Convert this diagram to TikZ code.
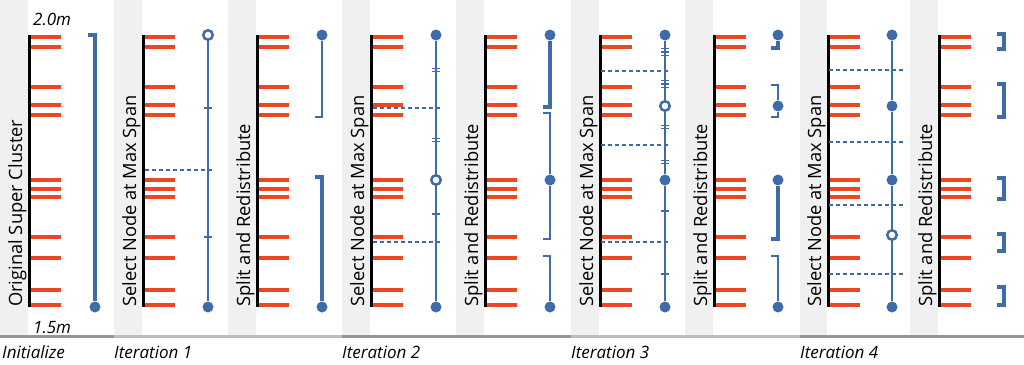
\documentclass[tikz,border=0pt]{standalone}
\usepackage{fontspec}
\setmainfont{Open Sans}
\definecolor{barred}{RGB}{236,70,35}
\definecolor{spanblue}{RGB}{62,108,170}
\definecolor{stripegray}{RGB}{240,240,240}
\definecolor{ruledark}{RGB}{150,150,150}
\definecolor{rulelight}{RGB}{190,190,190}
\tikzset{
  bar/.style={barred, line width=4pt},
  axis/.style={black, line width=3pt},
  thinspan/.style={spanblue, line width=2pt},
  thickspan/.style={spanblue, line width=3.5pt},
  cut/.style={spanblue, line width=1.5pt, dash pattern=on 4pt off 3pt},
  spantick/.style={spanblue, line width=1.3pt},
  dot/.style={circle, fill=spanblue, inner sep=0pt, minimum size=11pt},
  opendot/.style={circle, draw=spanblue, fill=white, line width=2.5pt, inner sep=0pt, minimum size=9.5pt},
  steplabel/.style={rotate=90, anchor=base west, inner sep=0pt, font=\fontsize{18.3}{18.3}\selectfont},
  itlabel/.style={anchor=base west, inner sep=0pt, font=\itshape\fontsize{17}{17}\selectfont},
}
\begin{document}
\begin{tikzpicture}[x=1pt, y=-1pt]
	\useasboundingbox (0,0) rectangle (1024,364);
	\fill[white] (0,0) rectangle (1024,364);

	% panels: stripe, axis and the red members
	\foreach \b/\s in {29/0, 143/114, 257/228, 371/342, 485/456, 600/571, 714/685, 828/800, 939/910}{
		\fill[stripegray] (\s,0) rectangle (\b-1.5,335);
		\foreach \y in {37.3,46.7,86.7,105.3,115,180.3,189,196.7,236.7,258,290,305.3}
			\draw[bar] (\b+1,\y) -- (\b+32,\y);
		\draw[axis] (\b,35) -- (\b,307);
	}

	% bottom rule
	\draw[ruledark, line width=3pt] (0,336) -- (114,336);
	\draw[rulelight, line width=3pt] (114,336) -- (342,336);
	\draw[ruledark, line width=3pt] (342,336) -- (571,336);
	\draw[rulelight, line width=3pt] (571,336) -- (800,336);
	\draw[ruledark, line width=3pt] (800,336) -- (1024,336);

	% labels
	\node[itlabel] (top) at (33,25) {2.0m};
	\node[itlabel] (low) at (33,333) {1.5m};
	\node[steplabel] (t0) at (22,307) {Original Super Cluster};
	\node[steplabel] (t1) at (136,307) {Select Node at Max Span};
	\node[steplabel] (t2) at (250,307) {Split and Redistribute};
	\node[steplabel] (t3) at (364,307) {Select Node at Max Span};
	\node[steplabel] (t4) at (478,307) {Split and Redistribute};
	\node[steplabel] (t5) at (593,307) {Select Node at Max Span};
	\node[steplabel] (t6) at (707,307) {Split and Redistribute};
	\node[steplabel] (t7) at (821,307) {Select Node at Max Span};
	\node[steplabel] (t8) at (932,307) {Split and Redistribute};
	\node[itlabel] (i0) at (2,358) {Initialize};
	\node[itlabel] (i1) at (114,358) {Iteration 1};
	\node[itlabel] (i2) at (342,358) {Iteration 2};
	\node[itlabel] (i3) at (571,358) {Iteration 3};
	\node[itlabel] (i4) at (800,358) {Iteration 4};

	% initialize
	\coordinate (a0) at (95,35);
	\node[dot] (a1) at (95,307) {};
	\draw[thickspan] ([xshift=-7pt]a0) -- (a0) -- (a1);

	% iteration 1: select
	\draw[cut] (145,170) -- (213,170);
	\node[opendot] (b0) at (208,35) {};
	\node[dot] (b1) at (208,307) {};
	\draw[thinspan] (b0) -- (b1);
	\draw[spantick] (204,108) -- (212,108);
	\draw[spantick] (204,237) -- (212,237);

	% iteration 1: split
	\node[dot] (c0) at (322,35) {};
	\coordinate (c1) at (322,117);
	\coordinate (c2) at (322,177);
	\node[dot] (c3) at (322,307) {};
	\draw[thinspan] (c0) -- (c1) -- ([xshift=-7pt]c1);
	\draw[thickspan] ([xshift=-7pt]c2) -- (c2) -- (c3);

	% iteration 2: select
	\draw[cut] (373,108) -- (440,108);
	\draw[cut] (373,242) -- (440,242);
	\node[dot] (d0) at (436,35) {};
	\node[opendot] (d1) at (436,180) {};
	\node[dot] (d2) at (436,307) {};
	\draw[thinspan] (d0) -- (d1) -- (d2);
	\foreach \y in {68.2,71.8,138.2,141.8,214}
		\draw[spantick] (432,\y) -- (440,\y);

	% iteration 2: split
	\node[dot] (e0) at (550,35) {};
	\coordinate (e1) at (550,107);
	\coordinate (e2) at (550,113);
	\node[dot] (e3) at (550,180) {};
	\coordinate (e4) at (550,239);
	\coordinate (e5) at (550,256);
	\node[dot] (e6) at (550,307) {};
	\draw[thickspan] (e0) -- (e1) -- ([xshift=-7pt]e1);
	\draw[thinspan] ([xshift=-7pt]e2) -- (e2) -- (e3) -- (e4) -- ([xshift=-7pt]e4);
	\draw[thinspan] ([xshift=-7pt]e5) -- (e5) -- (e6);

	% iteration 3: select
	\draw[cut] (601,71) -- (670,71);
	\draw[cut] (601,145) -- (670,145);
	\draw[cut] (601,242) -- (670,242);
	\node[dot] (f0) at (665,35) {};
	\node[opendot] (f1) at (665,106) {};
	\node[dot] (f2) at (665,180) {};
	\node[dot] (f3) at (665,307) {};
	\draw[thinspan] (f0) -- (f1) -- (f2) -- (f3);
	\foreach \y in {48.7,52,55.3,80.7,84,87.3,125.2,128.8,160.2,163.8,211,274}
		\draw[spantick] (661,\y) -- (669,\y);

	% iteration 3: split
	\node[dot] (g0) at (778,35) {};
	\coordinate (g1) at (778,48);
	\coordinate (g2) at (778,85);
	\node[dot] (g3) at (778,106) {};
	\coordinate (g4) at (778,117);
	\node[dot] (g5) at (778,180) {};
	\coordinate (g6) at (778,239);
	\coordinate (g7) at (778,256);
	\node[dot] (g8) at (778,307) {};
	\draw[thickspan] (g0) -- (g1) -- ([xshift=-7pt]g1);
	\draw[thinspan] ([xshift=-7pt]g2) -- (g2) -- (g3) -- (g4) -- ([xshift=-7pt]g4);
	\draw[thickspan] (g5) -- (g6) -- ([xshift=-7pt]g6);
	\draw[thinspan] ([xshift=-7pt]g7) -- (g7) -- (g8);

	% iteration 4: select
	\draw[cut] (829,70) -- (906,70);
	\draw[cut] (829,142) -- (906,142);
	\draw[cut] (829,205) -- (906,205);
	\draw[cut] (829,274) -- (906,274);
	\node[dot] (h0) at (892,35) {};
	\node[dot] (h1) at (892,106) {};
	\node[dot] (h2) at (892,180) {};
	\node[opendot] (h3) at (892,235) {};
	\node[dot] (h4) at (892,307) {};
	\draw[thinspan] (h0) -- (h1) -- (h2) -- (h3) -- (h4);

	% iteration 4: split
	\foreach \u/\v in {34/49, 84/117, 178/199, 234/251, 287/305}
		\draw[thickspan] (997,\u) -- (1004,\u) -- (1004,\v) -- (997,\v);
\end{tikzpicture}
\end{document}
